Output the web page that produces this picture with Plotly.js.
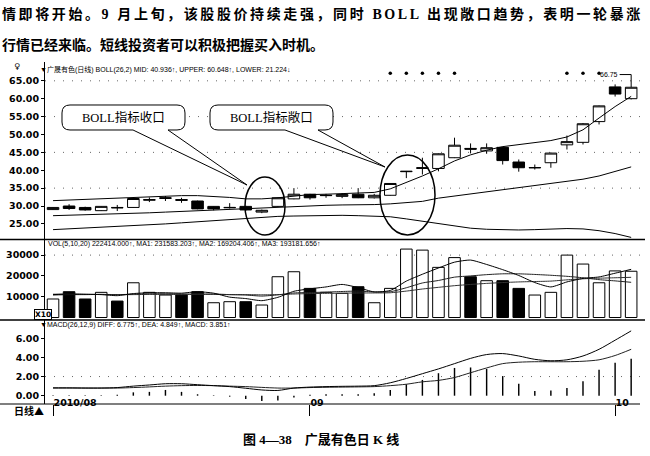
<!DOCTYPE html>
<html><head><meta charset="utf-8">
<script src="https://cdn.plot.ly/plotly-3.0.1.min.js"></script>
<style>html,body{margin:0;padding:0;background:#fff}#chart{width:650px;height:456px}</style>
</head><body><div id="chart"></div>
<script>
// ---------------- data ----------------
const dates = ['2010-08-10','2010-08-11','2010-08-12','2010-08-13','2010-08-16','2010-08-17','2010-08-18','2010-08-19','2010-08-20','2010-08-23','2010-08-24','2010-08-25','2010-08-26','2010-08-27','2010-08-30','2010-08-31','2010-09-01','2010-09-02','2010-09-03','2010-09-06','2010-09-07','2010-09-08','2010-09-09','2010-09-10','2010-09-13','2010-09-14','2010-09-15','2010-09-16','2010-09-17','2010-09-20','2010-09-21','2010-09-27','2010-09-28','2010-09-29','2010-09-30','2010-10-08','2010-10-11'];
const open  = [29.0,30.0,29.6,28.7,29.6,29.6,31.6,32.1,31.8,31.4,29.9,29.5,29.9,28.3,29.9,32.0,33.3,32.9,32.7,33.3,32.3,33.0,39.6,40.5,40.5,43.5,46.1,45.4,46.4,42.3,40.65,42.1,47.1,47.8,53.6,63.3,60.0];
const high  = [29.7,30.5,29.8,30.0,30.3,32.3,32.4,32.8,32.3,31.5,30.0,30.8,30.1,29.0,32.4,35.0,33.4,33.4,33.6,35.0,33.4,36.4,39.8,43.5,44.7,49.1,47.5,47.5,46.6,43.0,41.6,44.9,49.7,53.2,58.1,64.0,66.75];
const low   = [28.9,28.9,28.7,28.6,28.6,29.5,31.1,31.4,30.9,29.1,28.8,29.3,28.6,28.0,29.7,31.9,31.8,32.3,32.2,32.2,32.1,32.9,37.8,38.8,39.7,43.4,44.7,44.6,41.6,39.6,40.2,40.7,45.8,47.2,52.8,60.6,59.8];
const close = [29.6,29.3,28.9,29.9,29.5,32.1,31.8,32.3,31.6,29.2,29.2,29.6,28.9,28.8,32.3,33.3,32.3,33.0,33.2,32.3,33.0,36.3,39.7,40.7,44.6,47.0,45.9,46.3,42.7,40.7,40.75,44.8,48.0,53.0,58.0,61.3,63.2];
const bollUpper = [31.5,31.7,31.9,32.0,32.2,32.4,32.6,32.8,32.9,32.9,32.7,32.4,32.0,32.0,32.3,32.8,33.2,33.3,33.4,33.5,33.8,34.8,36.5,38.4,40.4,42.6,44.3,45.6,46.6,47.2,47.7,48.3,49.3,51.3,54.6,57.8,60.648];
const bollMid   = [27.3,27.4,27.5,27.6,27.7,27.9,28.1,28.3,28.5,28.7,28.9,29.1,29.3,29.5,29.7,29.9,30.1,30.2,30.3,30.3,30.4,30.6,30.9,31.3,32.2,32.8,33.4,34.0,34.6,35.1,35.7,36.2,36.8,37.5,38.4,39.6,40.936];
const bollLower = [23.4,23.6,23.8,24.0,24.2,24.4,24.7,25.0,25.3,25.6,25.9,26.2,26.6,26.9,27.1,27.2,27.3,27.4,27.4,27.3,27.2,27.0,26.4,25.7,25.0,24.3,23.8,23.5,23.3,23.3,23.4,23.6,23.7,23.6,23.1,22.3,21.224];
const signalDates = ['2010-09-08','2010-09-09','2010-09-10','2010-09-13','2010-09-14','2010-09-28','2010-09-29','2010-09-30'];
const signalLevel = [67.1,67.1,67.1,67.1,67.1,67.1,67.1,67.1];
const volume = [8900,12400,8900,12100,7900,16700,12100,10800,10800,12400,7100,7600,7600,6000,19600,22000,14000,12100,11600,14800,7100,14000,32900,32400,24100,28800,19600,17700,17700,14000,10800,12100,30000,25700,16700,22400,22241];
const volumeDir = ['u','d','d','u','d','u','u','u','d','d','u','u','d','u','u','u','d','u','u','d','u','u','u','u','u','u','d','u','d','d','u','u','u','u','u','u','u'];
const volMA5  = [11000,11300,11200,11000,10500,11500,11900,11900,11700,12400,11700,9800,9100,8100,9700,12600,13800,14700,15900,14400,12300,13000,17500,20800,23800,26600,27600,25500,23000,20200,16800,14700,17100,18800,19500,21300,23158];
const volMA10 = [10800,11000,11000,11100,11000,11200,11400,11400,11300,11200,11300,11000,10800,10300,10900,11800,12000,12200,12500,12700,12300,12400,14300,16600,17800,19400,20000,20600,21000,21000,20700,20300,19800,19100,18200,17600,16920];
const volMA20 = [11200,11200,11100,11100,11000,11000,11100,11100,11100,11200,11100,11000,11000,10900,11000,11300,11500,11600,11700,11800,11800,11900,12700,13700,14500,15300,15900,16400,16800,17100,17300,17500,18100,18600,18900,19100,19318];
const dif  = [0.82,0.82,0.80,0.80,0.85,1.00,1.12,1.25,1.25,1.15,1.05,0.95,0.78,0.60,0.55,0.80,0.90,0.95,0.98,1.00,1.05,1.35,1.80,2.30,2.80,3.35,3.90,4.30,4.40,4.15,3.80,3.65,3.75,4.15,4.85,5.80,6.775];
const dea  = [0.80,0.80,0.80,0.80,0.80,0.85,0.92,1.00,1.05,1.07,1.05,1.00,0.95,0.87,0.80,0.80,0.85,0.88,0.90,0.92,0.95,1.05,1.20,1.45,1.60,1.90,2.40,2.90,3.35,3.50,3.55,3.55,3.55,3.60,3.75,4.20,4.849];
const macdHist = [0.05,0.05,0.05,0.05,0.10,0.35,0.40,0.60,0.40,0.15,0.05,-0.10,-0.35,-0.55,-0.50,-0.20,0.10,0.15,0.15,0.15,0.25,0.60,1.20,1.65,2.35,2.90,2.95,2.80,2.05,1.25,0.50,0.55,0.80,1.50,2.70,3.45,3.851];
const priceTicks = [25,30,35,40,45,50,55,60,65];
const volTicks = [10000,20000,30000];
const macdTicks = [0,2,4,6];
const xTickDates = ['2010-08-10','2010-09-01','2010-10-08'];
const xTickText = ['2010/08','09','10'];

// ---------------- texts ----------------
const bodyLine1 = '情即将开始。9 月上旬，该股股价持续走强，同时 BOLL 出现敞口趋势，表明一轮暴涨';
const bodyLine2 = '行情已经来临。短线投资者可以积极把握买入时机。';
const caption = '图 4—38    广晟有色日 K 线';
const priceHeader = '▼广晟有色(日线) BOLL(26,2) MID: 40.936↑, UPPER: 60.648↑, LOWER: 21.224↓';
const volHeader = 'VOL(5,10,20) 222414.000↑, MA1: 231583.203↑, MA2: 169204.406↑, MA3: 193181.656↑';
const macdHeader = '▼MACD(26,12,9) DIFF: 6.775↑, DEA: 4.849↑, MACD: 3.851↑';
const callout1 = 'BOLL指标收口';
const callout2 = 'BOLL指标敞口';

// ---------------- layout helpers ----------------
const W = 650, H = 456, ML = 45, MR = 10, MT = 62, MB = 52;
const PW = W - ML - MR, PH = H - MT - MB;
const px = x => (x - ML) / PW;
const py = y => (H - MB - y) / PH;
const P = (x, y) => px(x).toFixed(5) + ',' + py(y).toFixed(5);
function calloutPath(x0, y0, x1, y1, r, wa, wb, tx, ty) {
  return 'M' + P(x0 + r, y0) + ' L' + P(x1 - r, y0) + ' Q' + P(x1, y0) + ' ' + P(x1, y0 + r) +
    ' L' + P(x1, y1 - r) + ' Q' + P(x1, y1) + ' ' + P(x1 - r, y1) + ' L' + P(wb, y1) +
    ' L' + P(tx, ty) + ' L' + P(wa, y1) + ' L' + P(x0 + r, y1) + ' Q' + P(x0, y1) + ' ' + P(x0, y1 - r) +
    ' L' + P(x0, y0 + r) + ' Q' + P(x0, y0) + ' ' + P(x0 + r, y0) + ' Z';
}
const serifCJK = '"Liberation Serif", "Noto Sans CJK SC", serif';
const smallFont = {family: '"Liberation Sans", "Noto Sans CJK SC", sans-serif', size: 7, color: '#000'};
function ann(text, x, y, font, extra) {
  return Object.assign({text: text, xref: 'paper', yref: 'paper', x: px(x), y: py(y), showarrow: false,
    xanchor: 'left', yanchor: 'middle', font: font}, extra || {});
}
const D1 = [(H - MB - 239.5) / PH, 1];
const D2 = [(H - MB - 320) / PH, (H - MB - 239.5) / PH];
const D3 = [0, (H - MB - 320) / PH];

const blk = '#000';
const traces = [
  {type: 'scatter', mode: 'lines', x: dates, y: bollUpper, xaxis: 'x', yaxis: 'y', line: {color: blk, width: 1}, hoverinfo: 'skip'},
  {type: 'scatter', mode: 'lines', x: dates, y: bollMid, xaxis: 'x', yaxis: 'y', line: {color: blk, width: 1}, hoverinfo: 'skip'},
  {type: 'scatter', mode: 'lines', x: dates, y: bollLower, xaxis: 'x', yaxis: 'y', line: {color: blk, width: 1}, hoverinfo: 'skip'},
  {type: 'candlestick', x: dates, open: open, high: high, low: low, close: close, xaxis: 'x', yaxis: 'y',
    increasing: {line: {color: blk, width: 1}, fillcolor: '#fff'},
    decreasing: {line: {color: blk, width: 1}, fillcolor: blk}, whiskerwidth: 0, hoverinfo: 'skip'},
  {type: 'scatter', mode: 'markers', x: signalDates, y: signalLevel, xaxis: 'x', yaxis: 'y',
    marker: {color: blk, size: 3.5, symbol: 'circle'}, hoverinfo: 'skip'},
  {type: 'bar', x: dates, y: volume, xaxis: 'x', yaxis: 'y2', width: 0.72,
    marker: {color: volumeDir.map(d => d === 'd' ? blk : '#fff'), line: {color: blk, width: 1}}, hoverinfo: 'skip'},
  {type: 'scatter', mode: 'lines', x: dates, y: volMA20, xaxis: 'x', yaxis: 'y2', line: {color: '#333', width: 1, shape: 'spline', smoothing: 0.6}, hoverinfo: 'skip'},
  {type: 'scatter', mode: 'lines', x: dates, y: volMA10, xaxis: 'x', yaxis: 'y2', line: {color: '#222', width: 1, shape: 'spline', smoothing: 0.6}, hoverinfo: 'skip'},
  {type: 'scatter', mode: 'lines', x: dates, y: volMA5, xaxis: 'x', yaxis: 'y2', line: {color: blk, width: 1, shape: 'spline', smoothing: 0.6}, hoverinfo: 'skip'},
  {type: 'bar', x: dates, y: macdHist, xaxis: 'x', yaxis: 'y3', width: 0.09,
    marker: {color: blk, line: {width: 0}}, hoverinfo: 'skip'},
  {type: 'scatter', mode: 'lines', x: dates, y: dea, xaxis: 'x', yaxis: 'y3', line: {color: '#222', width: 1, shape: 'spline', smoothing: 0.8}, hoverinfo: 'skip'},
  {type: 'scatter', mode: 'lines', x: dates, y: dif, xaxis: 'x', yaxis: 'y3', line: {color: blk, width: 1, shape: 'spline', smoothing: 0.8}, hoverinfo: 'skip'}
];

const tickFont = {family: '"DejaVu Sans", sans-serif', size: 9.5, color: '#000', weight: 'bold'};
const yCommon = {anchor: 'x', showline: true, linecolor: blk, linewidth: 1, ticks: 'outside', ticklen: 3,
  tickcolor: blk, showgrid: false, zeroline: false, tickfont: tickFont, fixedrange: true, tickmode: 'array'};

const dotted = (yref, v) => ({type: 'line', xref: 'paper', yref: yref, x0: 0, x1: 1, y0: v, y1: v,
  line: {color: '#666', width: 1, dash: '1px,8px'}, layer: 'below'});

const shapes = [
  dotted('y', 65), dotted('y', 55), dotted('y', 45), dotted('y', 35),
  dotted('y2', 30000), dotted('y3', 2),
  {type: 'line', xref: 'paper', yref: 'paper', x0: px(0), x1: px(645), y0: py(239.5), y1: py(239.5), line: {color: blk, width: 1.5}},
  {type: 'line', xref: 'paper', yref: 'paper', x0: px(0), x1: px(645), y0: py(320), y1: py(320), line: {color: blk, width: 1.5}},
  {type: 'line', xref: 'paper', yref: 'paper', x0: px(0), x1: px(640), y0: py(404), y1: py(404), line: {color: blk, width: 1.2}},
  {type: 'path', xref: 'paper', yref: 'paper', path: calloutPath(62, 105, 185, 130, 8, 133, 168, 247, 185),
    line: {color: blk, width: 1}, fillcolor: '#fff', layer: 'above'},
  {type: 'path', xref: 'paper', yref: 'paper', path: calloutPath(210, 105, 333, 130, 8, 285, 318, 385, 167),
    line: {color: blk, width: 1}, fillcolor: '#fff', layer: 'above'},
  {type: 'circle', xref: 'paper', yref: 'paper', x0: px(245), x1: px(285), y0: py(177), y1: py(235),
    line: {color: blk, width: 1.5}, fillcolor: 'rgba(0,0,0,0)', layer: 'above'},
  {type: 'circle', xref: 'paper', yref: 'paper', x0: px(380), x1: px(435), y0: py(155), y1: py(235),
    line: {color: blk, width: 1.5}, fillcolor: 'rgba(0,0,0,0)', layer: 'above'}
];

const bodyFont = {family: serifCJK, size: 14, color: '#000', weight: 'bold'};
const annotations = [
  ann('<span style="letter-spacing:2.6px">' + bodyLine1 + '</span>', 0, 14, bodyFont),
  ann(bodyLine2, 0, 45, bodyFont),
  ann(caption, 321, 440, {family: serifCJK, size: 13, color: '#000', weight: 'bold'}, {xanchor: 'center'}),
  ann('♀', 12, 67, {family: 'DejaVu Sans', size: 8, color: '#000'}),
  ann(priceHeader, 38, 69, smallFont),
  ann(volHeader, 46, 243.5, smallFont),
  ann(macdHeader, 38, 325, smallFont),
  ann('X10', 43, 314, {family: '"DejaVu Sans", sans-serif', size: 7.5, color: '#000', weight: 'bold'},
    {xanchor: 'center', bordercolor: blk, borderwidth: 1, borderpad: 0, bgcolor: '#fff'}),
  ann('日线▲', 12, 410, {family: '"Noto Sans CJK SC", sans-serif', size: 10, color: '#000', weight: 'bold'}),
  ann(callout1, 123.5, 117.5, {family: serifCJK, size: 12.5, color: '#000'}, {xanchor: 'center'}),
  ann(callout2, 271.5, 117.5, {family: serifCJK, size: 12.5, color: '#000'}, {xanchor: 'center'}),
  {text: String(high[high.length - 1]), xref: 'x', yref: 'y', x: dates[dates.length - 1], y: high[high.length - 1],
    showarrow: true, arrowhead: 0, arrowwidth: 1, arrowcolor: blk, ax: -22, ay: 0, standoff: 0,
    font: {family: '"Liberation Sans", sans-serif', size: 7, color: '#000'}}
];

const layout = {
  width: W, height: H, margin: {l: ML, r: MR, t: MT, b: MB}, paper_bgcolor: '#fff', plot_bgcolor: '#fff',
  showlegend: false, barmode: 'overlay', boxgap: 0.28, boxgroupgap: 0,
  font: {family: '"DejaVu Sans", sans-serif', color: '#000'},
  xaxis: {type: 'category', range: [-0.5, 36.55], anchor: 'y3', showline: false, showgrid: false, zeroline: false,
    ticks: 'outside', ticklen: 11, tickwidth: 1, tickcolor: blk, tickmode: 'array', tickvals: xTickDates, ticktext: xTickText,
    ticklabelposition: 'outside right', ticklabelstandoff: -10, tickfont: tickFont,
    rangeslider: {visible: false}, fixedrange: true},
  yaxis: Object.assign({}, yCommon, {domain: D1, range: [20.64, 70.26], tickvals: priceTicks, tickformat: '.2f'}),
  yaxis2: Object.assign({}, yCommon, {domain: D2, range: [-1200, 37500], tickvals: volTicks, tickformat: 'd'}),
  yaxis3: Object.assign({}, yCommon, {domain: D3, range: [-0.867, 7.91], tickvals: macdTicks, tickformat: '.2f'}),
  shapes: shapes,
  annotations: annotations
};

Plotly.newPlot('chart', traces, layout, {displayModeBar: false, staticPlot: true});
</script></body></html>
